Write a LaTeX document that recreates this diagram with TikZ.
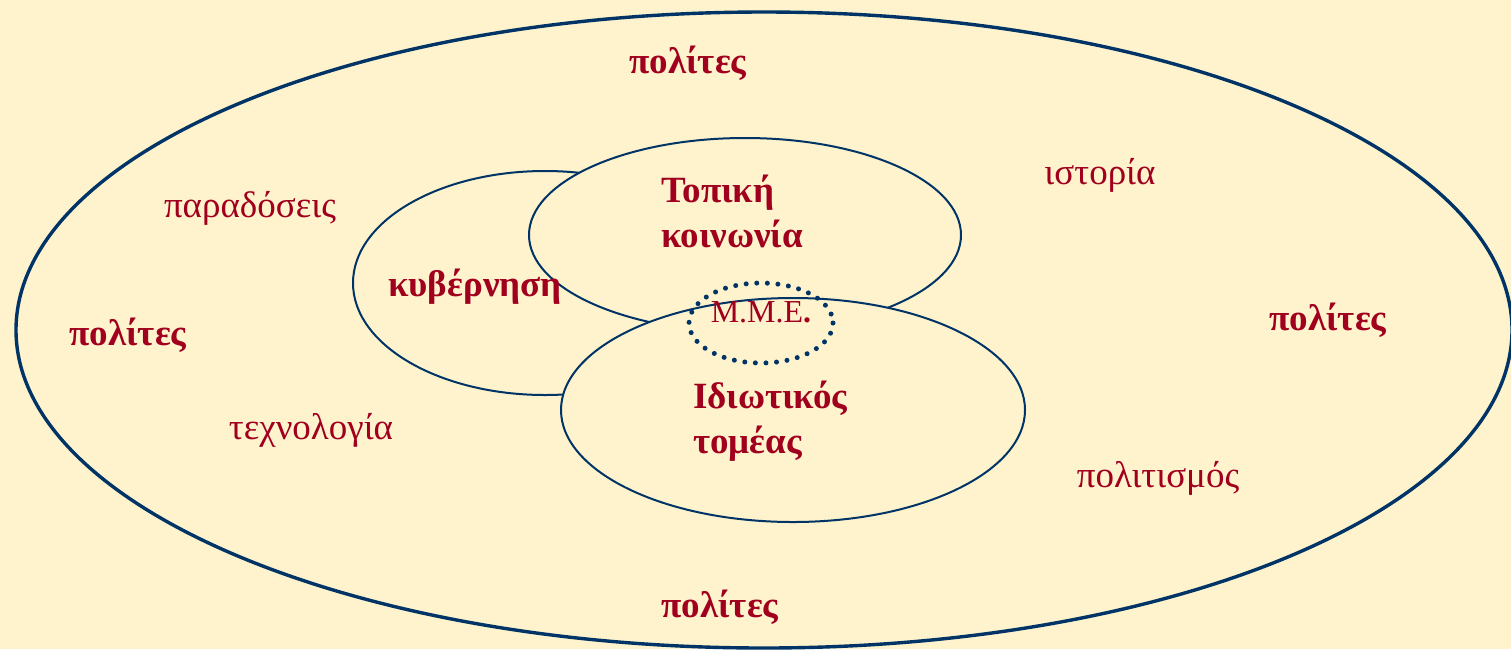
\documentclass[tikz,border=0pt]{standalone}
\usepackage{fontspec}
\setmainfont{Liberation Serif}
\definecolor{bgc}{HTML}{FEF3CD}
\definecolor{bluec}{HTML}{003366}
\definecolor{redc}{HTML}{A0001E}
\begin{document}
\begin{tikzpicture}[x=1pt,y=-1pt,
  lbl/.style={text=redc,font=\fontsize{37}{45}\selectfont,inner sep=0pt},
  blbl/.style={text=redc,font=\fontsize{37}{45}\selectfont\bfseries,inner sep=0pt},
  ring/.style={draw=bluec,line width=2pt,fill=bgc}]
\fill[bgc] (0,0) rectangle (1511,649);
\useasboundingbox (0,0) rectangle (1511,649);
\draw[bluec,line width=3.4pt] (764,330) ellipse [x radius=748,y radius=318];
\draw[ring] (545,283) ellipse [x radius=192,y radius=112];
\draw[ring] (745,235) ellipse [x radius=216,y radius=97];
\draw[ring] (793,410) ellipse [x radius=232,y radius=112];
\draw[bluec,line width=5pt,line cap=round,dash pattern=on 0pt off 10.6pt] (761,323) ellipse [x radius=72,y radius=40];
\node[blbl] (p1) at (688,63) {πολίτες};
\node[blbl] (p2) at (128,335) {πολίτες};
\node[blbl] (p3) at (1328,320) {πολίτες};
\node[blbl] (p4) at (720,607) {πολίτες};
\node[lbl] (t1) at (250,208) {παραδόσεις};
\node[lbl] (t2) at (1100,175) {ιστορία};
\node[lbl] (t3) at (311,430) {τεχνολογία};
\node[lbl] (t4) at (1158,478) {πολιτισμός};
\node[blbl,anchor=west,align=left] (tk) at (661,211) {Τοπική\\κοινωνία};
\node[blbl] (kv) at (475,287) {κυβέρνηση};
\node[blbl,anchor=west,align=left] (it) at (693,421) {Ιδιωτικός\\τομέας};
\node[lbl,font=\fontsize{32}{38}\selectfont] (mme) at (761,312) {Μ.Μ.Ε\textbf{.}};
\end{tikzpicture}
\end{document}
